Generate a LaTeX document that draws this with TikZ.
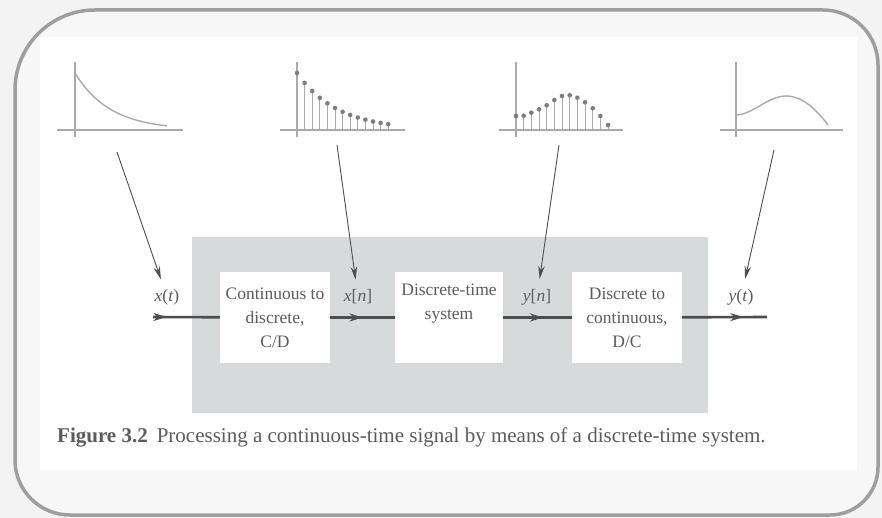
\documentclass[tikz,border=0pt]{standalone}
\usepackage{fontspec}
\setmainfont{Liberation Serif}
\usetikzlibrary{arrows.meta, calc, positioning, decorations.markings}
\usepackage{xcolor}

\definecolor{pagegray}{RGB}{243,243,243}
\definecolor{framefill}{RGB}{247,247,247}
\definecolor{framegray}{RGB}{158,158,158}
\definecolor{boxgray}{RGB}{214,218,218}
\definecolor{inkgray}{RGB}{78,78,78}
\definecolor{textgray}{RGB}{92,92,92}
\definecolor{plotgray}{RGB}{170,170,170}
\definecolor{dotgray}{RGB}{125,125,125}

\tikzset{
  block/.style={fill=white, minimum width=110pt, minimum height=91pt, inner sep=0pt,
                align=center, text=textgray, font=\fontsize{17.5}{24}\selectfont},
  siglabel/.style={text=textgray, inner sep=2pt, font=\fontsize{17.5}{20}\selectfont},
  signal/.style={draw=inkgray, line width=2.6pt},
  midarrow/.style={postaction={decorate}, decoration={markings,
                   mark=at position #1 with {\arrow{Stealth[length=13pt,width=8pt]}}}},
  pointer/.style={draw=inkgray, line width=0.9pt, shorten >=8pt,
                  -{Stealth[length=13pt,width=6.5pt]}},
  axisline/.style={draw=plotgray, line width=1.1pt},
  curve/.style={draw=plotgray, line width=1.4pt},
  stemline/.style={draw=plotgray, line width=0.9pt},
}

\begin{document}
\begin{tikzpicture}[x=1pt, y=-1pt]
  % page and rounded frame
  \fill[pagegray] (0,0) rectangle (882,518);
  \draw[framegray, line width=3.5pt, fill=framefill]
    (15,300) {[rounded corners=80pt] -- (15,10) -- (440,10)}
    {[rounded corners=55pt] -- (878,10) -- (878,300)}
    {[rounded corners=48pt] -- (878,515) -- (440,515)}
    {[rounded corners=55pt] -- (15,515) -- cycle};
  \fill[white] (40,37) rectangle (857,470);

  % shaded system area
  \fill[boxgray] (192,237) rectangle (708,413);

  % x(t) sketch
  \draw[axisline] (75,62) -- (75,137);
  \draw[axisline] (57,130) -- (183,130);
  \draw[curve, domain=0:92, samples=40] plot ({75+\x},{130-57*exp(-\x/35)});

  % x[n] sketch
  \draw[axisline] (297,62) -- (297,137);
  \draw[axisline] (280,130) -- (405,130);
  \foreach \n in {0,...,12} {
    \draw[stemline] ({297+7.6*\n},130) -- ({297+7.6*\n},{130-57*exp(-0.19*\n)});
    \fill[dotgray] ({297+7.6*\n},{130-57*exp(-0.19*\n)}) circle (2.3pt);
  }

  % y[n] sketch
  \draw[axisline] (516,62) -- (516,137);
  \draw[axisline] (499,130) -- (623,130);
  \foreach \h [count=\i from 0] in {14,14.3,17.3,20.7,24.7,30,34,34.7,32.3,27.7,21.7,14,5} {
    \draw[stemline] ({516+7.67*\i},130) -- ({516+7.67*\i},{130-\h});
    \fill[dotgray] ({516+7.67*\i},{130-\h}) circle (2.3pt);
  }

  % y(t) sketch
  \draw[axisline] (736,62) -- (736,137);
  \draw[axisline] (720,130) -- (843,130);
  \draw[curve] (736,115) .. controls (752,115) and (768,96) .. (786,96)
                         .. controls (804,96) and (818,112) .. (828,125);

  % blocks
  \node[block] (cd) at (275,317.5) {Continuous to\\discrete,\\C/D};
  \node[block, minimum width=108pt] (dts) at (449,317.5) {Discrete-time\\system\\\strut};
  \node[block] (dc) at (627,317.5) {Discrete to\\continuous,\\D/C};

  % signal names
  \node[siglabel] (xt) at (167,297) {\textit{x}(\textit{t})};
  \node[siglabel] (xn) at (358,297) {\textit{x}[\textit{n}]};
  \node[siglabel] (yn) at (537,297) {\textit{y}[\textit{n}]};
  \node[siglabel] (yt) at (741,297) {\textit{y}(\textit{t})};

  % signal path
  \coordinate (in) at (153,317);
  \coordinate (out) at (767,317);
  \draw[signal, midarrow=0.2] (in) -- (cd);
  \draw[signal, midarrow=0.5] (cd) -- (dts);
  \draw[signal, midarrow=0.58] (dts) -- (dc);
  \draw[signal, midarrow=0.72] (dc) -- (out);

  % pointers from sketches
  \coordinate (p1) at (117,152);
  \coordinate (p2) at (337,145);
  \coordinate (p3) at (559,145);
  \coordinate (p4) at (774,150);
  \draw[pointer] (p1) -- (xt);
  \draw[pointer] (p2) -- (xn);
  \draw[pointer] (p3) -- (yn);
  \draw[pointer] (p4) -- (yt);

  % caption
  \node[anchor=base west, inner sep=0pt, text=textgray,
        font=\fontsize{21}{24}\selectfont] (cap) at (57,442)
    {\textbf{Figure 3.2}\hspace{9pt}Processing a continuous-time signal by means of a discrete-time system.};
\end{tikzpicture}
\end{document}
